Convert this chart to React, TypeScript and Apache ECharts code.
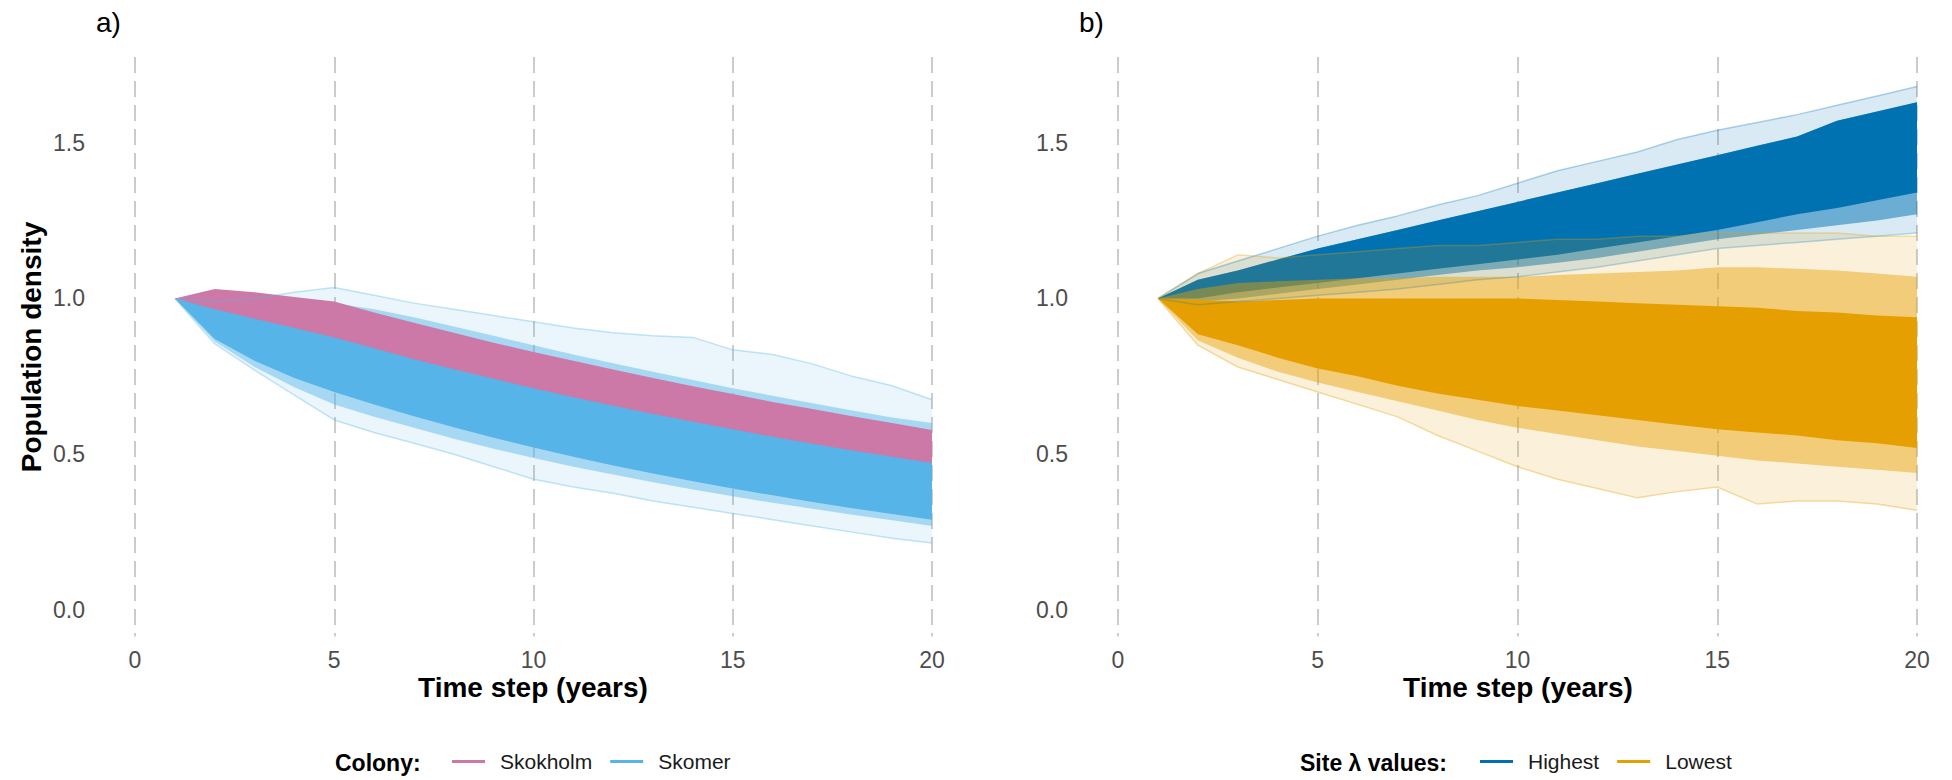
import React, { useEffect, useRef } from "react";
import * as echarts from "echarts";

// ---------- data ----------
const timeSteps = [1, 2, 3, 4, 5, 6, 7, 8, 9, 10, 11, 12, 13, 14, 15, 16, 17, 18, 19, 20];
const xTickValues = [0, 5, 10, 15, 20];
const yTickValues = [0, 0.5, 1.0, 1.5];

// Panel a) Colony
const skokholmHi = [1.0, 1.03, 1.02, 1.005, 0.99, 0.955, 0.922, 0.89, 0.858, 0.828, 0.8, 0.772, 0.745, 0.718, 0.693, 0.668, 0.645, 0.622, 0.6, 0.578];
const skokholmLo = [1.0, 0.965, 0.935, 0.905, 0.875, 0.84, 0.805, 0.773, 0.742, 0.712, 0.683, 0.656, 0.629, 0.604, 0.58, 0.556, 0.534, 0.512, 0.492, 0.472];

const skomerMax = [1.0, 0.99, 1.0, 1.02, 1.035, 1.01, 0.985, 0.965, 0.945, 0.925, 0.905, 0.89, 0.88, 0.875, 0.835, 0.82, 0.79, 0.75, 0.72, 0.675];
const skomerMidHi = [1.0, 0.975, 0.985, 0.99, 0.985, 0.965, 0.94, 0.91, 0.88, 0.85, 0.82, 0.792, 0.765, 0.738, 0.712, 0.688, 0.664, 0.64, 0.618, 0.6];
const skomerDenseHi = [1.0, 0.97, 0.95, 0.93, 0.91, 0.88, 0.85, 0.82, 0.79, 0.76, 0.73, 0.7, 0.675, 0.65, 0.625, 0.6, 0.58, 0.56, 0.54, 0.52];
const skomerDenseLo = [1.0, 0.87, 0.8, 0.745, 0.7, 0.66, 0.622, 0.587, 0.553, 0.522, 0.492, 0.464, 0.438, 0.413, 0.39, 0.368, 0.347, 0.327, 0.308, 0.29];
const skomerMidLo = [1.0, 0.862, 0.78, 0.715, 0.66, 0.62, 0.585, 0.55, 0.518, 0.488, 0.46, 0.435, 0.41, 0.387, 0.365, 0.344, 0.325, 0.306, 0.288, 0.27];
const skomerMin = [1.0, 0.855, 0.77, 0.69, 0.61, 0.57, 0.535, 0.5, 0.46, 0.42, 0.395, 0.375, 0.35, 0.33, 0.31, 0.29, 0.27, 0.25, 0.23, 0.215];

// Panel b) Site lambda values
const highestMax = [1.0, 1.08, 1.12, 1.16, 1.2, 1.235, 1.265, 1.3, 1.33, 1.37, 1.41, 1.44, 1.47, 1.51, 1.54, 1.565, 1.59, 1.62, 1.65, 1.68];
const highestDenseHi = [1.0, 1.06, 1.09, 1.125, 1.16, 1.19, 1.22, 1.25, 1.28, 1.31, 1.34, 1.37, 1.4, 1.43, 1.46, 1.49, 1.52, 1.57, 1.6, 1.63];
const highestDenseLo = [1.0, 1.0, 1.02, 1.035, 1.05, 1.065, 1.08, 1.095, 1.11, 1.125, 1.14, 1.16, 1.18, 1.2, 1.22, 1.245, 1.27, 1.29, 1.315, 1.34];
const highestMidLo = [1.0, 0.99, 1.0, 1.015, 1.03, 1.045, 1.06, 1.075, 1.09, 1.1, 1.115, 1.13, 1.15, 1.17, 1.19, 1.205, 1.22, 1.235, 1.25, 1.27];
const highestMin = [1.0, 0.98, 0.99, 1.0, 1.01, 1.02, 1.03, 1.045, 1.06, 1.07, 1.085, 1.1, 1.12, 1.14, 1.16, 1.17, 1.18, 1.19, 1.2, 1.21];

const lowestMax = [1.0, 1.08, 1.14, 1.13, 1.14, 1.15, 1.16, 1.17, 1.17, 1.18, 1.19, 1.19, 1.2, 1.2, 1.21, 1.21, 1.21, 1.21, 1.2, 1.2];
const lowestMidHi = [1.0, 1.03, 1.05, 1.055, 1.06, 1.065, 1.065, 1.07, 1.07, 1.07, 1.075, 1.08, 1.085, 1.09, 1.1, 1.1, 1.095, 1.09, 1.08, 1.07];
const lowestDenseHi = [1.0, 0.995, 0.99, 0.995, 1.0, 1.0, 1.0, 1.0, 1.0, 1.0, 0.995, 0.99, 0.985, 0.98, 0.975, 0.97, 0.96, 0.955, 0.945, 0.94];
const lowestDenseLo = [1.0, 0.885, 0.85, 0.81, 0.775, 0.75, 0.72, 0.695, 0.675, 0.655, 0.64, 0.625, 0.61, 0.595, 0.58, 0.57, 0.56, 0.545, 0.535, 0.52];
const lowestMidLo = [1.0, 0.865, 0.81, 0.765, 0.73, 0.7, 0.67, 0.64, 0.61, 0.585, 0.565, 0.545, 0.525, 0.51, 0.495, 0.48, 0.47, 0.46, 0.45, 0.44];
const lowestMin = [1.0, 0.85, 0.78, 0.74, 0.7, 0.66, 0.62, 0.56, 0.51, 0.46, 0.42, 0.39, 0.36, 0.38, 0.395, 0.34, 0.35, 0.35, 0.34, 0.32];

const colonyNames = ["Skokholm", "Skomer"];
const siteNames = ["Highest", "Lowest"];

// ---------- styling ----------
const FONT = "'Liberation Sans', Arial, Helvetica, sans-serif";
const PINK = "#CC79A7";
const SKY = "#56B4E9";
const BLUE = "#0072B2";
const ORANGE = "#E69F00";

// A band between two envelopes, drawn as one polygon through the axes' scales
function band(grid: number, lo: number[], hi: number[], color: string, opacity: number, name: string) {
  return {
    type: "custom",
    name,
    color,
    xAxisIndex: grid,
    yAxisIndex: grid,
    silent: true,
    data: timeSteps.map((t, i) => [t, lo[i], hi[i]]),
    encode: { x: 0, y: [1, 2] },
    renderItem: (params: any, api: any) => {
      if (params.dataIndexInside !== 0) return null;
      const n = params.dataInsideLength;
      const upper: number[][] = [];
      const lower: number[][] = [];
      for (let i = 0; i < n; i++) {
        const x = api.value(0, i);
        upper.push(api.coord([x, api.value(2, i)]));
        lower.push(api.coord([x, api.value(1, i)]));
      }
      const points = upper.concat(lower.reverse());
      return {
        type: "polygon",
        shape: { points },
        style: { fill: color, opacity, stroke: "none" },
      };
    },
  };
}

function edge(grid: number, vals: number[], color: string, opacity: number, name: string) {
  return {
    type: "line",
    name: name,
    xAxisIndex: grid,
    yAxisIndex: grid,
    symbol: "none",
    silent: true,
    lineStyle: { width: 1.5, color, opacity },
    data: timeSteps.map((t, i) => [t, vals[i]]),
  };
}

function makeX(grid: number) {
  return {
    type: "value",
    gridIndex: grid,
    min: xTickValues[0],
    max: xTickValues[xTickValues.length - 1],
    interval: 5,
    axisLine: { show: false, onZero: false },
    axisTick: { show: false },
    axisLabel: { color: "#4D4D4D", fontSize: 23, fontFamily: FONT, margin: 12 },
    splitLine: { show: true, lineStyle: { color: "#CCCCCC", width: 2, type: [16, 8] } },
  };
}

function makeY(grid: number) {
  return {
    type: "value",
    gridIndex: grid,
    min: -0.085,
    max: 1.775,
    axisLine: { show: false, onZero: false },
    axisTick: { show: false },
    splitLine: { show: false },
    axisLabel: {
      color: "#4D4D4D",
      fontSize: 23,
      fontFamily: FONT,
      margin: 50,
      customValues: yTickValues,
      formatter: (v: number) => v.toFixed(1),
    },
  };
}

export default function App() {
  const ref = useRef<HTMLDivElement>(null);
  useEffect(() => {
    if (!ref.current) return;
    const chart = echarts.init(ref.current, undefined, { renderer: "svg" });
    const series: any[] = [
      // Panel a: Skomer underneath
      band(0, skomerMin, skomerMax, SKY, 0.12, "Skomer faint"),
      band(0, skomerMidLo, skomerMidHi, SKY, 0.45, "Skomer mid"),
      band(0, skomerDenseLo, skomerDenseHi, SKY, 1, colonyNames[1]),
      edge(0, skomerMax, SKY, 0.35, "Skomer max"),
      edge(0, skomerMin, SKY, 0.35, "Skomer min"),
      // Skokholm on top
      band(0, skokholmLo, skokholmHi, PINK, 1, colonyNames[0]),
      // Panel b: Highest underneath
      band(1, highestMin, highestMax, BLUE, 0.15, "Highest faint"),
      band(1, highestMidLo, highestDenseHi, BLUE, 0.5, "Highest mid"),
      band(1, highestDenseLo, highestDenseHi, BLUE, 1, siteNames[0]),
      edge(1, highestMax, BLUE, 0.3, "Highest max"),
      edge(1, highestMin, BLUE, 0.25, "Highest min"),
      // Lowest on top
      band(1, lowestMin, lowestMax, ORANGE, 0.14, "Lowest faint"),
      band(1, lowestMidLo, lowestMidHi, ORANGE, 0.45, "Lowest mid"),
      band(1, lowestDenseLo, lowestDenseHi, ORANGE, 1, siteNames[1]),
      edge(1, lowestMax, ORANGE, 0.3, "Lowest max"),
      edge(1, lowestMin, ORANGE, 0.35, "Lowest min"),
    ];

    const legendBase = {
      orient: "horizontal",
      icon: "rect",
      itemWidth: 33,
      itemHeight: 3,
      itemGap: 18,
      selectedMode: false,
      padding: 0,
      textStyle: { fontSize: 21, color: "#1A1A1A", fontFamily: FONT, padding: [0, 0, 0, 10] },
    };

    chart.setOption({
      animation: false,
      backgroundColor: "#FFFFFF",
      textStyle: { fontFamily: FONT },
      grid: [
        { left: 135, top: 57, width: 797, height: 579.5, containLabel: false },
        { left: 1118, top: 57, width: 799, height: 579.5, containLabel: false },
      ],
      xAxis: [makeX(0), makeX(1)],
      yAxis: [makeY(0), makeY(1)],
      legend: [
        {
          ...legendBase,
          left: 452,
          top: 751,
          data: [
            { name: colonyNames[0], itemStyle: { color: PINK } },
            { name: colonyNames[1], itemStyle: { color: SKY } },
          ],
        },
        {
          ...legendBase,
          left: 1480,
          top: 751,
          data: [
            { name: siteNames[0], itemStyle: { color: BLUE } },
            { name: siteNames[1], itemStyle: { color: ORANGE } },
          ],
        },
      ],
      graphic: [
        { type: "text", left: 96, top: 8, style: { text: "a)", font: `28px ${FONT}`, fill: "#000" } },
        { type: "text", left: 1079, top: 8, style: { text: "b)", font: `28px ${FONT}`, fill: "#000" } },
        {
          type: "text",
          x: 31,
          y: 347,
          rotation: Math.PI / 2,
          style: { text: "Population density", font: `bold 28px ${FONT}`, fill: "#000", align: "center", verticalAlign: "middle" },
        },
        { type: "text", x: 533, y: 687, style: { text: "Time step (years)", font: `bold 28px ${FONT}`, fill: "#000", align: "center", verticalAlign: "middle" } },
        { type: "text", x: 1518, y: 687, style: { text: "Time step (years)", font: `bold 28px ${FONT}`, fill: "#000", align: "center", verticalAlign: "middle" } },
        { type: "text", x: 335, y: 763, style: { text: "Colony:", font: `bold 23px ${FONT}`, fill: "#000", align: "left", verticalAlign: "middle" } },
        { type: "text", x: 1300, y: 763, style: { text: "Site λ values:", font: `bold 23px ${FONT}`, fill: "#000", align: "left", verticalAlign: "middle" } },
      ],
      series,
    });
    return () => chart.dispose();
  }, []);
  return <div ref={ref} style={{ position: "absolute", left: 0, top: 0, width: 1952, height: 780 }} />;
}
